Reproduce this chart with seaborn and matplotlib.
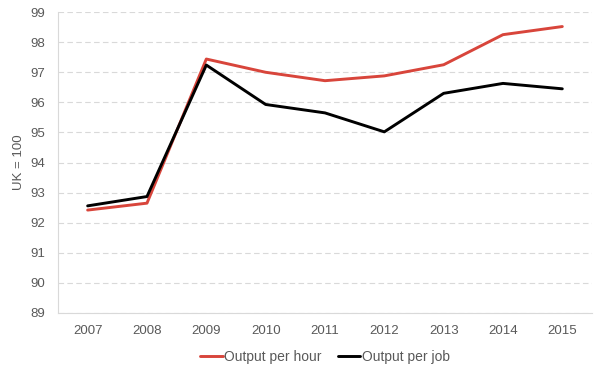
import numpy as np
import pandas as pd
import matplotlib
matplotlib.use("Agg")
import matplotlib.pyplot as plt
import seaborn as sns

years = [2007, 2008, 2009, 2010, 2011, 2012, 2013, 2014, 2015]
per_hour = [92.42, 92.65, 97.44, 97.0, 96.72, 96.88, 97.25, 98.25, 98.52]
per_job = [92.56, 92.87, 97.24, 95.93, 95.65, 95.02, 96.3, 96.63, 96.45]
series_names = ["Output per hour", "Output per job"]

df = pd.DataFrame({
    "year": years * 2,
    "value": per_hour + per_job,
    "series": [series_names[0]] * len(years) + [series_names[1]] * len(years),
})

sns.set_style("white")
plt.rcParams['font.family'] = ['Liberation Sans', 'DejaVu Sans']
grey = "#595959"

fig = plt.figure(figsize=(5.94, 3.78), dpi=100)
ax = fig.add_axes([0.0976, 0.172, 0.8990, 0.796])
sns.lineplot(data=df, x="year", y="value", hue="series",
             palette={series_names[0]: "#d8453b", series_names[1]: "#000000"},
             linewidth=2.1, ax=ax)

ax.set_xlim(2006.5, 2015.5)
ax.set_ylim(89, 99)
ax.set_xticks(years)
ax.set_yticks(range(89, 100))
ax.tick_params(axis="both", length=0, labelsize=9.5, labelcolor=grey)
ax.tick_params(axis="x", pad=9)
ax.tick_params(axis="y", pad=9)
ax.grid(axis="y", color="#d9d9d9", linestyle=(0, (5, 3)), linewidth=0.8)
ax.set_axisbelow(True)
for s in ["top", "right"]:
    ax.spines[s].set_visible(False)
for s in ["left", "bottom"]:
    ax.spines[s].set_color("#d9d9d9")
    ax.spines[s].set_linewidth(0.8)
ax.set_xlabel("")
ax.set_ylabel("UK = 100", fontsize=9.5, color=grey, labelpad=4)

ax.legend(loc="upper center", bbox_to_anchor=(0.5, -0.08), ncol=2, frameon=False,
          fontsize=10, labelcolor=grey, handlelength=1.6, handletextpad=0.1,
          columnspacing=1.2)

fig.savefig("out.png", dpi=100)
